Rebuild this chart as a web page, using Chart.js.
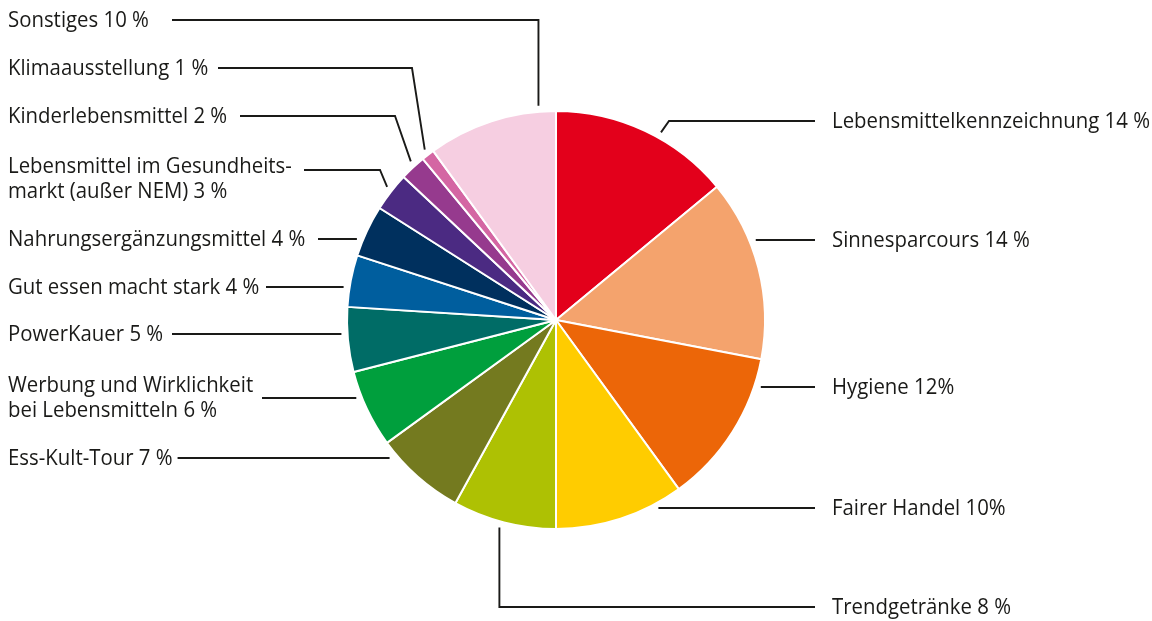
<!DOCTYPE html>
<html>
<head>
<meta charset="utf-8">
<script src="https://cdn.jsdelivr.net/npm/chart.js@4/dist/chart.umd.min.js"></script>
<style>
  html, body { margin: 0; padding: 0; background: #ffffff; }
  #wrap { width: 1152px; height: 621px; }
</style>
</head>
<body>
<div id="wrap"><canvas id="c" width="1152" height="621"></canvas></div>
<script>
// Topic shares (percent), clockwise from 12 o'clock
const topics = [
  'Lebensmittelkennzeichnung',
  'Sinnesparcours',
  'Hygiene',
  'Fairer Handel',
  'Trendgetränke',
  'Ess-Kult-Tour',
  'Werbung und Wirklichkeit\nbei Lebensmitteln',
  'PowerKauer',
  'Gut essen macht stark',
  'Nahrungsergänzungsmittel',
  'Lebensmittel im Gesundheits-\nmarkt (außer NEM)',
  'Kinderlebensmittel',
  'Klimaausstellung',
  'Sonstiges'
];
const shares = [14, 14, 12, 10, 8, 7, 6, 5, 4, 4, 3, 2, 1, 10];
const tightPercent = [false, false, true, true, false, false, false, false, false, false, false, false, false, false];

const sliceColors = [
  '#e3001b', '#f4a36d', '#ec6608', '#ffcc00', '#aec103', '#747a1f', '#009f3d',
  '#006c66', '#005e9e', '#00305e', '#4b2a82', '#963a8e', '#d466a3', '#f6cee1'
];

// Label placement and leader-line routing
const labelSide     = ['right', 'right', 'right', 'right', 'right', 'left', 'left', 'left', 'left', 'left', 'left', 'left', 'left', 'left'];
const labelLineY    = [121, 240, 387, 508, 607, 458, 398, 334, 287, 239, 170, 116, 68, 20];
const labelBaseline = [128, 247, 394, 515, 614, 465, 392, 341, 294, 246, 173, 123, 75, 27];
const leaderStartX  = [815, 815, 815, 815, 815, 172, 262, 172, 266, 318, 304, 240, 218, 172];
const leaderElbowX  = [669, null, null, null, 'v', null, null, null, null, null, 380, 395, 412, 'v'];
const anchorFrac    = [0.58, 0.355, 0.16, 0.21, 0.53, 0.87, 0.66, 0.6, 0.37, 0.29, 0.54, 0.6, 0.55, 0.87];

const LEFT_TEXT_X = 8;
const RIGHT_TEXT_X = 832;
const LINE_GAP = 25;
const FONT = "21px 'Open Sans'";
const TEXT_SCALE_X = 0.97;
const INK = '#1a1a18';

function labelLines(i) {
  const parts = topics[i].split('\n');
  const suffix = tightPercent[i] ? shares[i] + '%' : shares[i] + '\u00a0%';
  parts[parts.length - 1] += ' ' + suffix;
  return parts;
}

const calloutPlugin = {
  id: 'callouts',
  afterDatasetsDraw(chart) {
    const ctx = chart.ctx;
    const arcs = chart.getDatasetMeta(0).data;
    ctx.save();
    ctx.font = FONT;
    ctx.fillStyle = INK;
    ctx.strokeStyle = INK;
    ctx.lineWidth = 1.9;
    ctx.lineCap = 'butt';
    ctx.lineJoin = 'miter';
    ctx.textBaseline = 'alphabetic';
    ctx.textAlign = 'left';

    arcs.forEach((arc, i) => {
      const p = arc.getProps(['x', 'y', 'startAngle', 'endAngle', 'outerRadius'], true);
      const a = p.startAngle + anchorFrac[i] * (p.endAngle - p.startAngle);
      const r = p.outerRadius + 6;
      const ax = p.x + Math.cos(a) * r;
      const ay = p.y + Math.sin(a) * r;
      const ly = labelLineY[i];

      // label text
      const lines = labelLines(i);
      const tx = labelSide[i] === 'left' ? LEFT_TEXT_X : RIGHT_TEXT_X;
      let textRight = 0;
      lines.forEach((ln, k) => {
        ctx.save();
        ctx.translate(tx, labelBaseline[i] + k * LINE_GAP);
        ctx.scale(TEXT_SCALE_X, 1);
        ctx.fillText(ln, 0, 0);
        ctx.restore();
        textRight = Math.max(textRight, tx + ctx.measureText(ln).width * TEXT_SCALE_X);
      });

      // leader line from label to slice edge
      let sx = leaderStartX[i];
      if (labelSide[i] === 'left') sx = Math.max(sx, textRight + 5);
      ctx.beginPath();
      ctx.moveTo(sx, ly);
      const el = leaderElbowX[i];
      if (el === 'v') {
        ctx.lineTo(ax, ly);
        ctx.lineTo(ax, ay);
      } else if (el !== null) {
        ctx.lineTo(el, ly);
        ctx.lineTo(ax, ay);
      } else {
        ctx.lineTo(ax, ly);
      }
      ctx.stroke();
    });
    ctx.restore();
  }
};

new Chart(document.getElementById('c'), {
  type: 'pie',
  data: {
    labels: topics,
    datasets: [{
      data: shares,
      backgroundColor: sliceColors,
      borderColor: '#ffffff',
      borderWidth: 2
    }]
  },
  options: {
    responsive: false,
    animation: false,
    events: [],
    layout: { padding: { left: 346, right: 386, top: 110, bottom: 91 } },
    plugins: {
      legend: { display: false },
      tooltip: { enabled: false }
    }
  },
  plugins: [calloutPlugin]
});
</script>
</body>
</html>
